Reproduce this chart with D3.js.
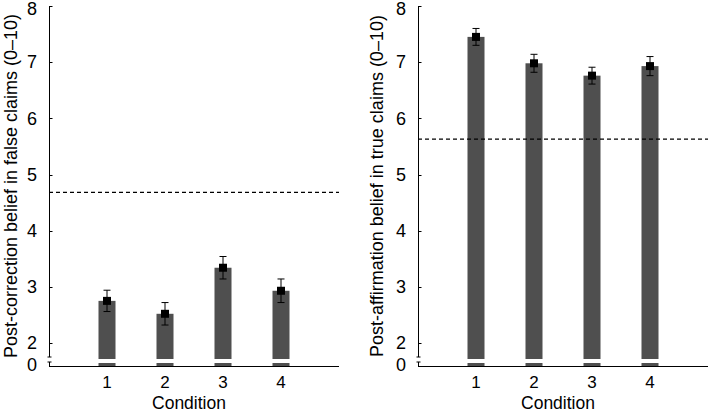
<!DOCTYPE html>
<html><head><meta charset="utf-8">
<script src="https://cdn.jsdelivr.net/npm/d3@7"></script>
<style>body{margin:0;background:#fff}svg{display:block}text{font-family:"Liberation Sans",Arial,sans-serif;fill:#000}</style>
</head><body>
<script>
const conditions = [1, 2, 3, 4];
const falseMeans = [2.75, 2.52, 3.34, 2.93];
const falseErr = [0.19, 0.20, 0.20, 0.21];
const trueMeans = [7.45, 6.98, 6.76, 6.93];
const trueErr = [0.15, 0.16, 0.15, 0.17];
const baselines = [4.68, 5.63];
const yTicks = [2, 3, 4, 5, 6, 7, 8];
const yLabels = ["Post-correction belief in false claims (0\u201310)", "Post-affirmation belief in true claims (0\u201310)"];
const xLabel = "Condition";

const svg = d3.select("body").append("svg").attr("width", 709).attr("height", 412);

const panels = [
  {axisX: 49, means: falseMeans, err: falseErr, base: baselines[0], label: yLabels[0], labelX: 11},
  {axisX: 418, means: trueMeans, err: trueErr, base: baselines[1], label: yLabels[1], labelX: 377}
];

const y = d3.scaleLinear().domain([2, 8]).range([343, 6]);
const yZero = 366;
const breakTop = 357, breakBot = 362;
const barColor = "#4f4f4f";

panels.forEach(p => {
  const g = svg.append("g");
  const x = d3.scaleLinear().domain([0, 5]).range([p.axisX, p.axisX + 290]);
  const bw = 17;

  g.selectAll("rect.bar").data(conditions).join("rect")
    .attr("x", d => x(d) - bw/2).attr("width", bw)
    .attr("y", (d,i) => y(p.means[i])).attr("height", (d,i) => 359 - y(p.means[i]))
    .attr("fill", barColor);
  g.selectAll("rect.stub").data(conditions).join("rect")
    .attr("x", d => x(d) - bw/2).attr("width", bw)
    .attr("y", 363).attr("height", yZero - 363)
    .attr("fill", barColor);

  g.append("line").attr("x1", p.axisX).attr("x2", p.axisX + 290)
    .attr("y1", y(p.base)).attr("y2", y(p.base))
    .attr("stroke", "#000").attr("stroke-width", 1.2).attr("stroke-dasharray", "4,3");

  conditions.forEach((c, i) => {
    const cx = x(c), hi = y(p.means[i] + p.err[i]), lo = y(p.means[i] - p.err[i]);
    g.append("line").attr("x1", cx).attr("x2", cx).attr("y1", hi).attr("y2", lo).attr("stroke", "#000").attr("stroke-width", 1);
    g.append("line").attr("x1", cx - 3.5).attr("x2", cx + 3.5).attr("y1", hi).attr("y2", hi).attr("stroke", "#000").attr("stroke-width", 1);
    g.append("line").attr("x1", cx - 3.5).attr("x2", cx + 3.5).attr("y1", lo).attr("y2", lo).attr("stroke", "#000").attr("stroke-width", 1);
    g.append("rect").attr("x", cx - 4).attr("y", y(p.means[i]) - 4).attr("width", 8).attr("height", 8).attr("fill", "#000");
  });

  const ax = p.axisX + 0.5;
  g.append("line").attr("x1", ax).attr("x2", ax).attr("y1", y(8)).attr("y2", breakTop).attr("stroke", "#000");
  g.append("line").attr("x1", ax - 2).attr("x2", ax + 2).attr("y1", breakTop).attr("y2", breakTop).attr("stroke", "#000");
  g.append("line").attr("x1", ax - 2).attr("x2", ax + 2).attr("y1", breakBot).attr("y2", breakBot).attr("stroke", "#000");
  g.append("line").attr("x1", ax).attr("x2", ax).attr("y1", breakBot).attr("y2", yZero).attr("stroke", "#000");
  g.selectAll("line.tick").data(yTicks).join("line")
    .attr("x1", ax).attr("x2", ax + 3).attr("y1", d => Math.round(y(d)) + 0.5).attr("y2", d => Math.round(y(d)) + 0.5)
    .attr("stroke", "#000");
  g.selectAll("text.yt").data(yTicks).join("text")
    .attr("x", p.axisX - 12).attr("y", d => Math.max(y(d), 9)).attr("dy", "0.35em")
    .attr("text-anchor", "end").attr("font-size", 18).text(d => d);
  g.append("text").attr("x", p.axisX - 12).attr("y", yZero).attr("dy", "0.3em")
    .attr("text-anchor", "end").attr("font-size", 18).text("0");

  g.append("line").attr("x1", p.axisX).attr("x2", p.axisX + 290).attr("y1", yZero + 0.5).attr("y2", yZero + 0.5).attr("stroke", "#000");
  g.selectAll("text.xt").data(conditions).join("text")
    .attr("x", d => x(d)).attr("y", 388).attr("text-anchor", "middle").attr("font-size", 17).text(d => d);
  g.append("text").attr("x", x(2.5) - 5).attr("y", 409).attr("text-anchor", "middle").attr("font-size", 17.5).text(xLabel);

  g.append("text").attr("transform", `translate(${p.labelX},${(y(8) + yZero)/2}) rotate(-90)`)
    .attr("text-anchor", "middle").attr("dy", "0.35em").attr("font-size", 18).text(p.label);
});
</script>
</body></html>
